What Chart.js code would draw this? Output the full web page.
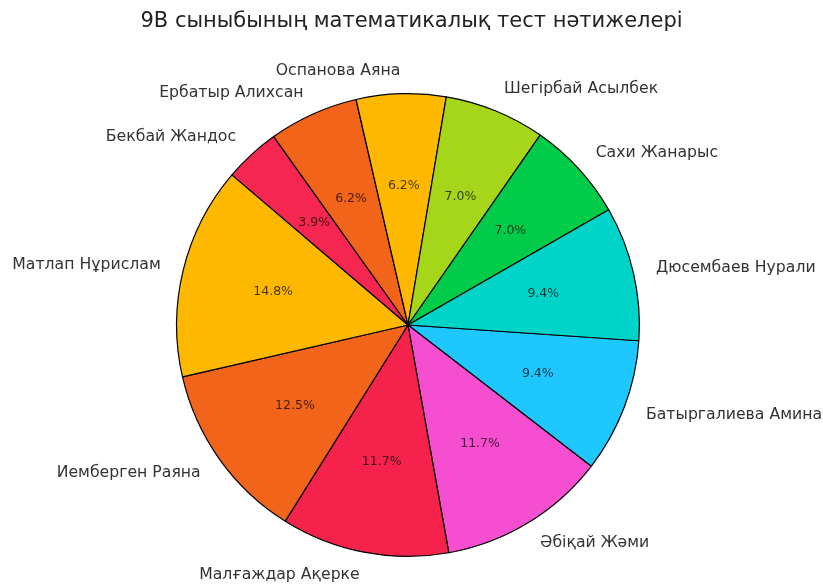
<!DOCTYPE html>
<html>
<head>
<meta charset="utf-8">
<script src="https://cdn.jsdelivr.net/npm/chart.js@4.4.1/dist/chart.umd.min.js"></script>
<style>
  html, body { margin: 0; padding: 0; background: #fff; }
  #wrap { position: relative; width: 823px; height: 584px; }
</style>
</head>
<body>
<div id="wrap"><canvas id="pie"></canvas></div>
<script>
// students in clockwise order, starting just below 3 o'clock
const students = [
    'Батыргалиева Амина',
    'Әбіқай Жәми',
    'Малғаждар Ақерке',
    'Иемберген Раяна',
    'Матлап Нұрислам',
    'Бекбай Жандос',
    'Ербатыр Алихсан',
    'Оспанова Аяна',
    'Шегірбай Асылбек',
    'Сахи Жанарыс',
    'Дюсембаев Нурали'
];
const scores = [12, 15, 15, 16, 19, 5, 8, 8, 9, 9, 12];
const sliceColors = [
    '#1ec8ff', '#f54ed0', '#f5234c', '#f26419', '#ffb800', '#f5264f',
    '#f26419', '#ffb800', '#a6d61a', '#00cc4a', '#00d4c8'
];
const chartTitle = '9B сыныбының математикалық тест нәтижелері';

const total = scores.reduce((a, b) => a + b, 0);

// python-style rounding (half to even) so 6.25 -> 6.2
const pctText = (v) => {
    const x = v * 1000 / total;
    let n = Math.floor(x);
    const frac = x - n;
    if (frac > 0.5 || (frac === 0.5 && n % 2 === 1)) n += 1;
    return (n / 10).toFixed(1) + '%';
};

const pieLabels = {
    id: 'pieLabels',
    afterDatasetsDraw(chart) {
        const ctx = chart.ctx;
        const meta = chart.getDatasetMeta(0);
        ctx.save();

        // title (drawn here so the side padding doesn't squeeze it)
        ctx.font = '21px "DejaVu Sans"';
        ctx.fillStyle = '#222';
        ctx.textAlign = 'center';
        ctx.textBaseline = 'middle';
        ctx.fillText(chartTitle, chart.width / 2, 22);

        meta.data.forEach((arc, i) => {
            const p = arc.getProps(['x', 'y', 'startAngle', 'endAngle', 'outerRadius'], true);
            const mid = (p.startAngle + p.endAngle) / 2;
            const cos = Math.cos(mid), sin = Math.sin(mid);

            // outer name label
            ctx.font = '15.7px "DejaVu Sans"';
            ctx.fillStyle = '#333';
            ctx.textAlign = cos > 0 ? 'left' : 'right';
            ctx.fillText(students[i], p.x + cos * p.outerRadius * 1.1, p.y + sin * p.outerRadius * 1.1);

            // percentage inside
            ctx.font = '12.5px "DejaVu Sans"';
            ctx.fillStyle = 'rgba(0,0,0,0.72)';
            ctx.textAlign = 'center';
            ctx.fillText(pctText(scores[i]), p.x + cos * p.outerRadius * 0.6, p.y + sin * p.outerRadius * 0.6);
        });
        ctx.restore();
    }
};

new Chart(document.getElementById('pie'), {
    type: 'pie',
    data: {
        labels: students,
        datasets: [{
            data: scores,
            backgroundColor: sliceColors,
            borderColor: '#000',
            borderWidth: 1.2
        }]
    },
    options: {
        responsive: true,
        maintainAspectRatio: false,
        animation: false,
        rotation: 93.9,
        layout: {
            padding: { top: 93, bottom: 27, left: 176, right: 183 }
        },
        plugins: {
            legend: { display: false },
            tooltip: { enabled: false },
            title: { display: false }
        }
    },
    plugins: [pieLabels]
});
</script>
</body>
</html>
